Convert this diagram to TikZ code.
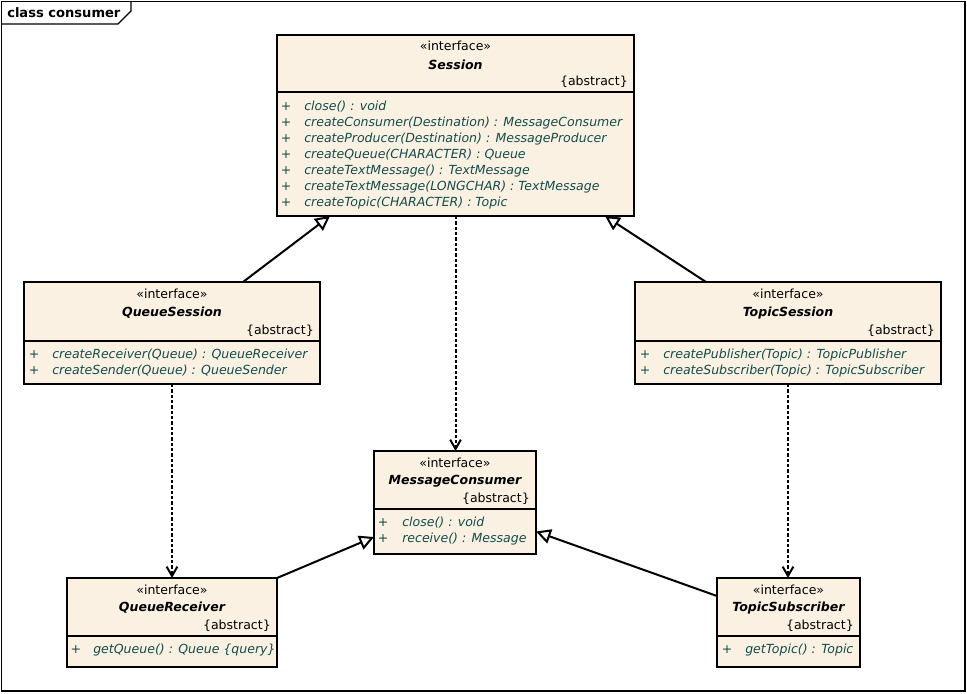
\documentclass[tikz,border=0pt]{standalone}
\usepackage{fontspec}
\setmainfont{DejaVu Sans}
\usetikzlibrary{arrows.meta,positioning,calc}
\definecolor{classfill}{RGB}{251,241,227}
\definecolor{optext}{RGB}{18,76,76}
\newcommand\umlfont{\fontsize{9.4}{11}\selectfont}

\begin{document}
\begin{tikzpicture}
	[	x=0.75pt,y=-0.75pt,
	box/.style 2 args={rectangle,draw=black,fill=classfill,line width=1.5pt,inner sep=0pt,outer sep=0pt,anchor=north west,
		minimum width=#1*0.75pt,minimum height=#2*0.75pt},
	stereo/.style={font=\umlfont,inner sep=0pt},
	cname/.style={font=\umlfont\bfseries\itshape,inner sep=0pt},
	tag/.style={font=\umlfont,inner sep=0pt,anchor=east},
	plus/.style={font=\umlfont,text=optext,inner sep=0pt},
	op/.style={font=\umlfont\itshape,text=optext,inner sep=0pt,anchor=west},
	gen/.style={line width=1.5pt,-{Triangle[open,length=11pt,width=11pt]}},
	dep/.style={line width=1.5pt,dash pattern=on 2.5pt off 1.5pt,-{Straight Barb[length=7pt,width=8pt]}}
	]
	\useasboundingbox (0,0) rectangle (967,693);
	% frame
	\draw[line width=0.9pt] (1.5,1.5) rectangle (965,691);
	\draw[line width=0.9pt] (1.5,24) -- (118,24) -- (131,11) -- (131,1.5);
	\node[font=\fontsize{9.8}{11}\selectfont\bfseries,anchor=west,inner sep=0pt] (title) at (7,12.5) {class consumer};

	% Session
	\node[box={357}{57}] (session) at (277,35) {};
	\node[box={357}{124}] (sessionops) at (session.south west) {};
	\node[stereo] (sessionst) at ($(session.north)+(0,11)$) {«interface»};
	\node[cname] (sessionname) at ($(session.north)+(0,30)$) {Session};
	\node[tag] (sessionabs) at ($(session.north east)+(-6,47)$) {\{abstract\}};
	\foreach \m [count=\i from 0] in {{close() : void},{createConsumer(Destination) : MessageConsumer},
		{createProducer(Destination) : MessageProducer},{createQueue(CHARACTER) : Queue},
		{createTextMessage() : TextMessage},{createTextMessage(LONGCHAR) : TextMessage},
		{createTopic(CHARACTER) : Topic}}{
		\node[plus] (sessionplus\i) at ($(sessionops.north west)+(9,15+16*\i)$) {+};
		\node[op] (sessionop\i) at ($(sessionops.north west)+(27,15+16*\i)$) {\m};
	}

	% QueueSession
	\node[box={296}{59}] (qsession) at (24,282) {};
	\node[box={296}{43}] (qsessionops) at (qsession.south west) {};
	\node[stereo] (qsessionst) at ($(qsession.north)+(0,12)$) {«interface»};
	\node[cname] (qsessionname) at ($(qsession.north)+(0,31)$) {QueueSession};
	\node[tag] (qsessionabs) at ($(qsession.north east)+(-6,49)$) {\{abstract\}};
	\foreach \m [count=\i from 0] in {{createReceiver(Queue) : QueueReceiver},{createSender(Queue) : QueueSender}}{
		\node[plus] (qsessionplus\i) at ($(qsessionops.north west)+(10,14+16*\i)$) {+};
		\node[op] (qsessionop\i) at ($(qsessionops.north west)+(28,14+16*\i)$) {\m};
	}

	% TopicSession
	\node[box={306}{59}] (tsession) at (635,282) {};
	\node[box={306}{43}] (tsessionops) at (tsession.south west) {};
	\node[stereo] (tsessionst) at ($(tsession.north)+(0,12)$) {«interface»};
	\node[cname] (tsessionname) at ($(tsession.north)+(0,31)$) {TopicSession};
	\node[tag] (tsessionabs) at ($(tsession.north east)+(-6,49)$) {\{abstract\}};
	\foreach \m [count=\i from 0] in {{createPublisher(Topic) : TopicPublisher},{createSubscriber(Topic) : TopicSubscriber}}{
		\node[plus] (tsessionplus\i) at ($(tsessionops.north west)+(10,14+16*\i)$) {+};
		\node[op] (tsessionop\i) at ($(tsessionops.north west)+(28,14+16*\i)$) {\m};
	}

	% MessageConsumer
	\node[box={162}{58}] (mc) at (374,451) {};
	\node[box={162}{45}] (mcops) at (mc.south west) {};
	\node[stereo] (mcst) at ($(mc.north)+(0,12)$) {«interface»};
	\node[cname] (mcname) at ($(mc.north)+(0,30)$) {MessageConsumer};
	\node[tag] (mcabs) at ($(mc.north east)+(-6,48)$) {\{abstract\}};
	\foreach \m [count=\i from 0] in {{close() : void},{receive() : Message}}{
		\node[plus] (mcplus\i) at ($(mcops.north west)+(9,14+16*\i)$) {+};
		\node[op] (mcop\i) at ($(mcops.north west)+(28,14+16*\i)$) {\m};
	}

	% QueueReceiver
	\node[box={210}{58}] (qreceiver) at (67,578) {};
	\node[box={210}{31}] (qreceiverops) at (qreceiver.south west) {};
	\node[stereo] (qreceiverst) at ($(qreceiver.north)+(0,12)$) {«interface»};
	\node[cname] (qreceivername) at ($(qreceiver.north)+(0,30)$) {QueueReceiver};
	\node[tag] (qreceiverabs) at ($(qreceiver.north east)+(-6,48)$) {\{abstract\}};
	\node[plus] (qreceiverplus) at ($(qreceiverops.north west)+(9,14)$) {+};
	\node[op] (qreceiverop) at ($(qreceiverops.north west)+(26,14)$) {getQueue() : Queue \{query\}};

	% TopicSubscriber
	\node[box={143}{58}] (tsub) at (717,578) {};
	\node[box={143}{31}] (tsubops) at (tsub.south west) {};
	\node[stereo] (tsubst) at ($(tsub.north)+(0,12)$) {«interface»};
	\node[cname] (tsubname) at ($(tsub.north)+(0,30)$) {TopicSubscriber};
	\node[tag] (tsubabs) at ($(tsub.north east)+(-6,48)$) {\{abstract\}};
	\node[plus] (tsubplus) at ($(tsubops.north west)+(10,14)$) {+};
	\node[op] (tsubop) at ($(tsubops.north west)+(28,14)$) {getTopic() : Topic};

	% connectors
	\draw[gen] ($(qsession.north)+(71,0)$) -- ($(sessionops.south)+(-125.5,0)$);
	\draw[gen] ($(tsession.north)+(-82,0)$) -- ($(sessionops.south)+(149.5,0)$);
	\draw[dep] (sessionops.south) -- (sessionops.south |- mc.north);
	\draw[dep] (qsessionops.south) -- (qsessionops.south |- qreceiver.north);
	\draw[dep] (tsessionops.south) -- (tsessionops.south |- tsub.north);
	\draw[gen] (qreceiver.north east) -- ($(mcops.west)+(0,5.5)$);
	\draw[gen] ($(tsub.west)+(0,-11)$) -- (mcops.east);
\end{tikzpicture}
\end{document}
